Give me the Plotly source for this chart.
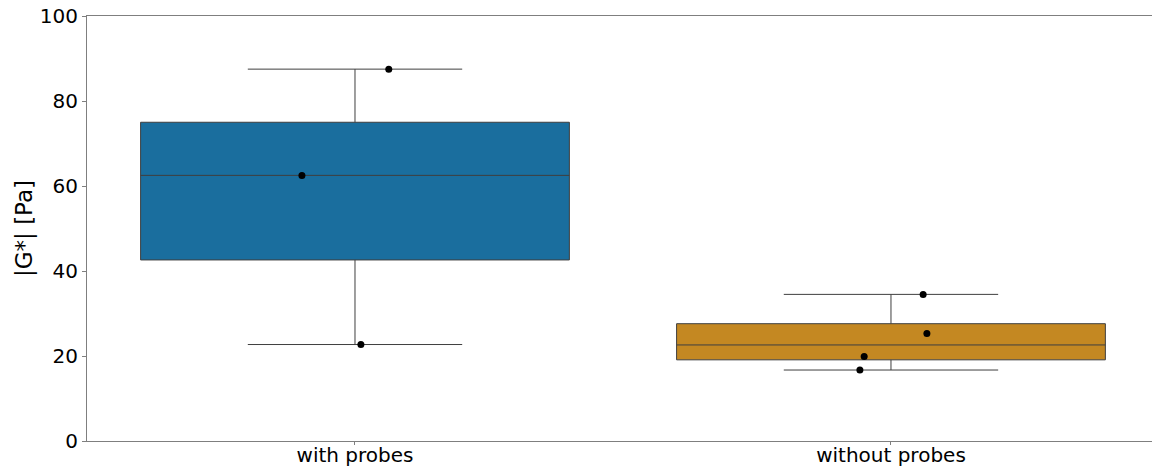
import numpy as np
import plotly.graph_objects as go

# Measured |G*| values per condition
categories = ["with probes", "without probes"]
with_probes = [87.5, 62.5, 22.7]
without_probes = [34.5, 25.3, 19.9, 16.7]
series = [with_probes, without_probes]

# Horizontal strip offsets for the individual points (category units)
jitter = [[0.063, -0.099, 0.011], [0.060, 0.067, -0.050, -0.058]]

colors = ["#1a6e9e", "#c48822"]
edge = "#3f3f3f"
font = "DejaVu Sans"

fig = go.Figure()
for i, (name, vals) in enumerate(zip(categories, series)):
    arr = np.asarray(vals)
    q1, med, q3 = np.percentile(arr, [25, 50, 75])
    iqr = q3 - q1
    lo = arr[arr >= q1 - 1.5 * iqr].min()
    hi = arr[arr <= q3 + 1.5 * iqr].max()
    fig.add_trace(go.Box(
        x=[i], q1=[q1], median=[med], q3=[q3],
        lowerfence=[lo], upperfence=[hi], name=name,
        boxpoints=False, width=0.8, whiskerwidth=0.5,
        fillcolor=colors[i], line=dict(color=edge, width=1),
        showlegend=False,
    ))

for i, vals in enumerate(series):
    fig.add_trace(go.Scatter(
        x=[i + d for d in jitter[i]], y=vals, mode="markers",
        marker=dict(color="black", size=7), showlegend=False,
        hoverinfo="y",
    ))

fig.update_layout(
    width=1152, height=468,
    margin=dict(l=87, r=0, t=16, b=27),
    paper_bgcolor="white", plot_bgcolor="white",
    font=dict(family=font, size=20, color="black"),
    xaxis=dict(
        range=[-0.5, 1.487], tickvals=[0, 1], ticktext=categories,
        showline=True, linecolor="#7f7f7f", linewidth=1, mirror=True,
        ticks="outside", ticklen=3, tickcolor="#7f7f7f",
        ticklabelstandoff=-7,
        showgrid=False, zeroline=False, automargin=False,
        tickfont=dict(size=20),
    ),
    yaxis=dict(
        range=[0, 100], tickvals=[0, 20, 40, 60, 80, 100],
        showline=True, linecolor="#7f7f7f", linewidth=1,
        ticks="outside", ticklen=4, tickcolor="#7f7f7f",
        showgrid=False, zeroline=False, automargin=False,
        tickfont=dict(size=20),
        title=dict(text="|G*| [Pa]", font=dict(size=23), standoff=0),
    ),
)

fig.write_html("out.html")
